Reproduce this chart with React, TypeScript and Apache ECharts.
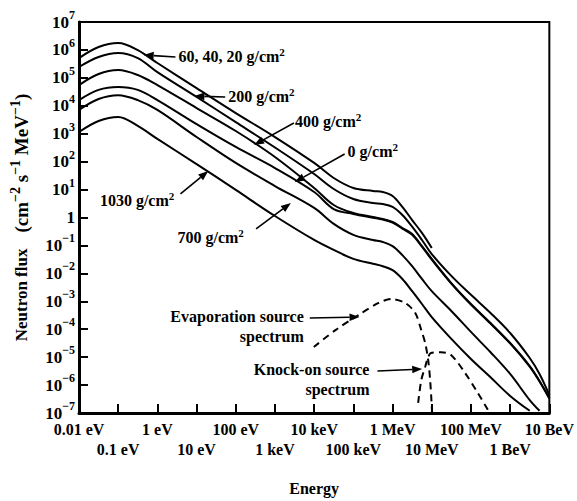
import React, { useEffect, useRef } from "react";
import * as echarts from "echarts";

// Energy grid (eV) shared by the solid curves
const ENERGY_EV = [1e-2, 3.16e-2, 1e-1, 3.16e-1, 1, 1e1, 1e2, 1e3, 1e4, 3.16e4, 1e5, 3.16e5, 5.62e5, 1e6, 1.78e6, 3.16e6, 5.62e6, 1e7, 3.16e7, 1e8, 3.16e8, 1e9, 3.16e9, 5.62e9, 1e10];

// Neutron flux (cm^-2 s^-1 MeV^-1), per atmospheric depth
const FLUX_60_40_20 = [5.1e5, 1.27e6, 1.77e6, 9.9e5, 3.4e5, 4.3e4, 5.5e3, 760, 90, 26, 11.4, 8.9, 8.2, 5.9, 2.4, 0.81, 0.28, 0.081, null, null, null, null, null, null, null];
const FLUX_200 = [2.45e5, 5.6e5, 7.8e5, 5.1e5, 1.6e5, 2.07e4, 2.6e3, 321, 36, 10.5, 4.6, 3.3, 3.05, 2.4, 1.23, 0.47, 0.157, 0.049, 8.1e-3, 1.7e-3, 3.8e-4, 7.3e-5, 9.3e-6, 2.5e-6, 4.4e-7];
const FLUX_400 = [5.5e4, 1.37e5, 1.9e5, 1.26e5, 5.5e4, 8.3e3, 1.25e3, 147, 11.4, 2.8, 1.45, 1.04, 0.89, 0.69, 0.42, 0.257, 0.095, 0.033, 4.5e-3, 8.0e-4, 1.67e-4, 3.2e-5, 4.8e-6, 1.4e-6, 3.45e-7];
const FLUX_0 = [1.6e4, 3.7e4, 4.7e4, 3.7e4, 1.6e4, 2.2e3, 335, 59, 8.2, 2.0, 1.34, 0.98, 0.84, 0.66, 0.40, 0.24, 0.09, 0.031, 4.3e-3, 7.6e-4, 1.6e-4, 3.1e-5, 4.6e-6, 1.35e-6, 3.3e-7];
const FLUX_700 = [7.1e3, 1.75e4, 2.4e4, 1.6e4, 7.1e3, 764, 90, 13.4, 2.2, 0.59, 0.24, 0.157, 0.133, 0.095, 0.045, 0.018, 6.3e-3, 2.3e-3, 4.5e-4, 8.0e-5, 1.5e-5, 2.5e-6, 2.9e-7, 1.2e-7, null];
const FLUX_1030 = [1.15e3, 2.85e3, 4.0e3, 1.9e3, 650, 82, 9.7, 1.13, 0.157, 0.069, 0.033, 0.022, 0.018, 0.013, 6.3e-3, 2.3e-3, 8.0e-4, 2.7e-4, 4.5e-5, 8.6e-6, 1.9e-6, 4.1e-7, 1.2e-7, null, null];

// Source spectra (dashed)
const EVAP_E = [9.8e3, 3.5e4, 1.35e5, 4.4e5, 9.3e5, 2.1e6, 3.8e6, 5.4e6, 6.8e6, 8.1e6, 9.1e6, 1.02e7];
const EVAP_F = [2.3e-5, 9.3e-5, 3.2e-4, 8.7e-4, 1.2e-3, 8.7e-4, 3.8e-4, 9.3e-5, 3.2e-5, 7.9e-6, 1.5e-6, 1.1e-7];
const KNOCK_E = [4.5e6, 5.4e6, 6.8e6, 8.1e6, 9.5e6, 1.74e7, 3.1e7, 7.1e7, 1.5e8, 2.7e8];
const KNOCK_F = [2.3e-7, 1.5e-6, 4.5e-6, 1.0e-5, 1.4e-5, 1.5e-5, 1.2e-5, 2.7e-6, 5.2e-7, 1.3e-7];

// Tick labels, decade by decade from 0.01 eV
const X_TICK_LABELS = ["0.01 eV", "0.1 eV", "1 eV", "10 eV", "100 eV", "1 keV", "10 keV", "100 keV", "1 MeV", "10 MeV", "100 MeV", "1 BeV", "10 BeV"];
const X_MIN_EXP = -2;
const X_MAX_EXP = 10;
const Y_MIN_EXP = -7;
const Y_MAX_EXP = 7;

const FONT = "'Liberation Serif', 'Times New Roman', serif";

// Annotations: positions in (log10 E, log10 flux)
const ANNOTATIONS = [
  { text: "60, 40, 20 g/cm{s|2}", at: [0.538, 5.747], align: "left", from: [0.46, 5.747], to: [-0.35, 5.818] },
  { text: "200 g/cm{s|2}", at: [1.807, 4.315], align: "left", from: [1.73, 4.315], to: [0.944, 4.35] },
  { text: "400 g/cm{s|2}", at: [3.508, 3.455], align: "left", from: [3.482, 3.384], to: [2.467, 2.596] },
  { text: "0 g/cm{s|2}", at: [4.853, 2.346], align: "left", from: [4.777, 2.274], to: [3.508, 1.271] },
  { text: "1030 g/cm{s|2}", at: [-1.467, 0.591], align: "left", from: [0.589, 0.842], to: [1.299, 1.665] },
  { text: "700 g/cm{s|2}", at: [0.513, -0.734], align: "left", from: [2.518, -0.411], to: [3.406, 0.52] },
  { text: "Evaporation source\nspectrum", at: [3.736, -3.92], align: "right", from: [3.888, -3.598], to: [5.157, -3.562] },
  { text: "Knock-on source\nspectrum", at: [5.411, -5.818], align: "right", from: [5.614, -5.496], to: [6.756, -5.424] },
];

function toPairs(es: number[], fs: (number | null)[]) {
  const out: number[][] = [];
  es.forEach((e, i) => {
    const f = fs[i];
    if (f != null) out.push([Math.log10(e), Math.log10(f)]);
  });
  return out;
}

const SOLID = [FLUX_60_40_20, FLUX_200, FLUX_400, FLUX_0, FLUX_700, FLUX_1030];

export default function App() {
  const ref = useRef<HTMLDivElement>(null);
  useEffect(() => {
    if (!ref.current) return;
    const chart = echarts.init(ref.current, undefined, { renderer: "svg" });
    const labelFont = { fontSize: 16, fontWeight: "bold", fontFamily: FONT, color: "#000" };
    const tickRich = {
      b: { fontSize: 17, lineHeight: 26, fontFamily: FONT, fontWeight: "bold", color: "#000" },
      s: { fontSize: 12, lineHeight: 12, verticalAlign: "top", fontFamily: FONT, fontWeight: "bold", color: "#000" },
    };
    const nameRich = {
      n: { fontSize: 17, lineHeight: 26, fontFamily: FONT, fontWeight: "bold", color: "#000" },
      p: { fontSize: 19, lineHeight: 26, fontFamily: FONT, fontWeight: "bold", color: "#000" },
      s: { fontSize: 14, lineHeight: 14, verticalAlign: "top", fontFamily: FONT, fontWeight: "bold", color: "#000" },
    };
    const series: any[] = SOLID.map((fs) => ({
      type: "line",
      data: toPairs(ENERGY_EV, fs),
      showSymbol: false,
      smooth: 0.35,
      lineStyle: { color: "#000", width: 2 },
      silent: true,
    }));
    series.push({
      type: "line",
      data: toPairs(EVAP_E, EVAP_F),
      showSymbol: false,
      smooth: 0.3,
      lineStyle: { color: "#000", width: 2, type: [7, 5] },
      silent: true,
    });
    series.push({
      type: "line",
      data: toPairs(KNOCK_E, KNOCK_F),
      showSymbol: false,
      smooth: 0.3,
      lineStyle: { color: "#000", width: 2, type: [7, 5] },
      silent: true,
    });
    const xLabel = (row: number) => (v: number) => {
      const i = Math.round(v - X_MIN_EXP);
      return i % 2 === row ? X_TICK_LABELS[i] || "" : "";
    };
    chart.setOption({
      animation: false,
      backgroundColor: "#fff",
      grid: { left: 79, top: 22, width: 473, height: 391, show: true, borderColor: "#000", borderWidth: 2, backgroundColor: "transparent" },
      xAxis: [
        {
          type: "value",
          min: X_MIN_EXP,
          max: X_MAX_EXP,
          interval: 1,
          name: "Energy",
          nameLocation: "middle",
          nameGap: 67,
          nameTextStyle: labelFont,
          axisLine: { onZero: false, lineStyle: { color: "#000", width: 3 } },
          axisTick: { inside: true, length: 9, lineStyle: { color: "#000", width: 2 } },
          splitLine: { show: false },
          axisLabel: { ...labelFont, interval: 0, showMinLabel: true, showMaxLabel: true, margin: 8, formatter: xLabel(0) },
        },
        {
          type: "value",
          position: "bottom",
          min: X_MIN_EXP,
          max: X_MAX_EXP,
          interval: 1,
          axisLine: { show: false, onZero: false },
          axisTick: { show: false },
          splitLine: { show: false },
          axisLabel: { ...labelFont, interval: 0, showMinLabel: true, showMaxLabel: true, margin: 28, formatter: xLabel(1) },
        },
      ],
      yAxis: {
        type: "value",
        min: Y_MIN_EXP,
        max: Y_MAX_EXP,
        interval: 1,
        name: "{n|Neutron flux}    {p|(cm}{s|−2}{p| s}{s|−1}{p| MeV}{s|−1}{p|)}",
        nameLocation: "middle",
        nameRotate: 90,
        nameGap: 44,
        nameTextStyle: { ...labelFont, lineHeight: 26, rich: nameRich },
        axisLine: { onZero: false, lineStyle: { color: "#000", width: 3 } },
        axisTick: { inside: true, length: 9, lineStyle: { color: "#000", width: 2 } },
        splitLine: { show: false },
        axisLabel: {
          margin: 4,
          showMinLabel: true,
          showMaxLabel: true,
          color: "#000",
          rich: tickRich,
          formatter: (v: number) => {
            const e = Math.round(v);
            if (e === 0) return "{b|1}";
            return "{b|10}{s|" + (e < 0 ? "−" + -e : String(e)) + "}";
          },
        },
      },
      series,
    });

    const conv = (p: number[]) => chart.convertToPixel({ gridIndex: 0 }, p) as number[];
    const g: any[] = [];
    ANNOTATIONS.forEach((a) => {
      const t = conv(a.at);
      g.push({
        type: "text",
        x: t[0],
        y: t[1],
        z: 10,
        style: {
          text: a.text,
          fontSize: 16,
          fontWeight: "bold",
          fontFamily: FONT,
          fill: "#000",
          align: a.align,
          verticalAlign: "middle",
          lineHeight: 20,
          rich: { s: { fontSize: 11, lineHeight: 11, verticalAlign: "top", fontWeight: "bold", fontFamily: FONT, fill: "#000" } },
        },
      });
      const p1 = conv(a.from);
      const p2 = conv(a.to);
      const ang = Math.atan2(p2[1] - p1[1], p2[0] - p1[0]);
      const L = 10;
      const W = 3.8;
      const bx = p2[0] - L * Math.cos(ang);
      const by = p2[1] - L * Math.sin(ang);
      g.push({ type: "line", z: 10, shape: { x1: p1[0], y1: p1[1], x2: bx, y2: by }, style: { stroke: "#000", lineWidth: 1.6 } });
      g.push({
        type: "polygon",
        z: 10,
        shape: { points: [[p2[0], p2[1]], [bx + W * Math.sin(ang), by - W * Math.cos(ang)], [bx - W * Math.sin(ang), by + W * Math.cos(ang)]] },
        style: { fill: "#000" },
      });
    });
    chart.setOption({ graphic: g });

    return () => chart.dispose();
  }, []);
  return <div ref={ref} style={{ position: "fixed", left: 0, top: 0, width: 577, height: 501 }} />;
}
